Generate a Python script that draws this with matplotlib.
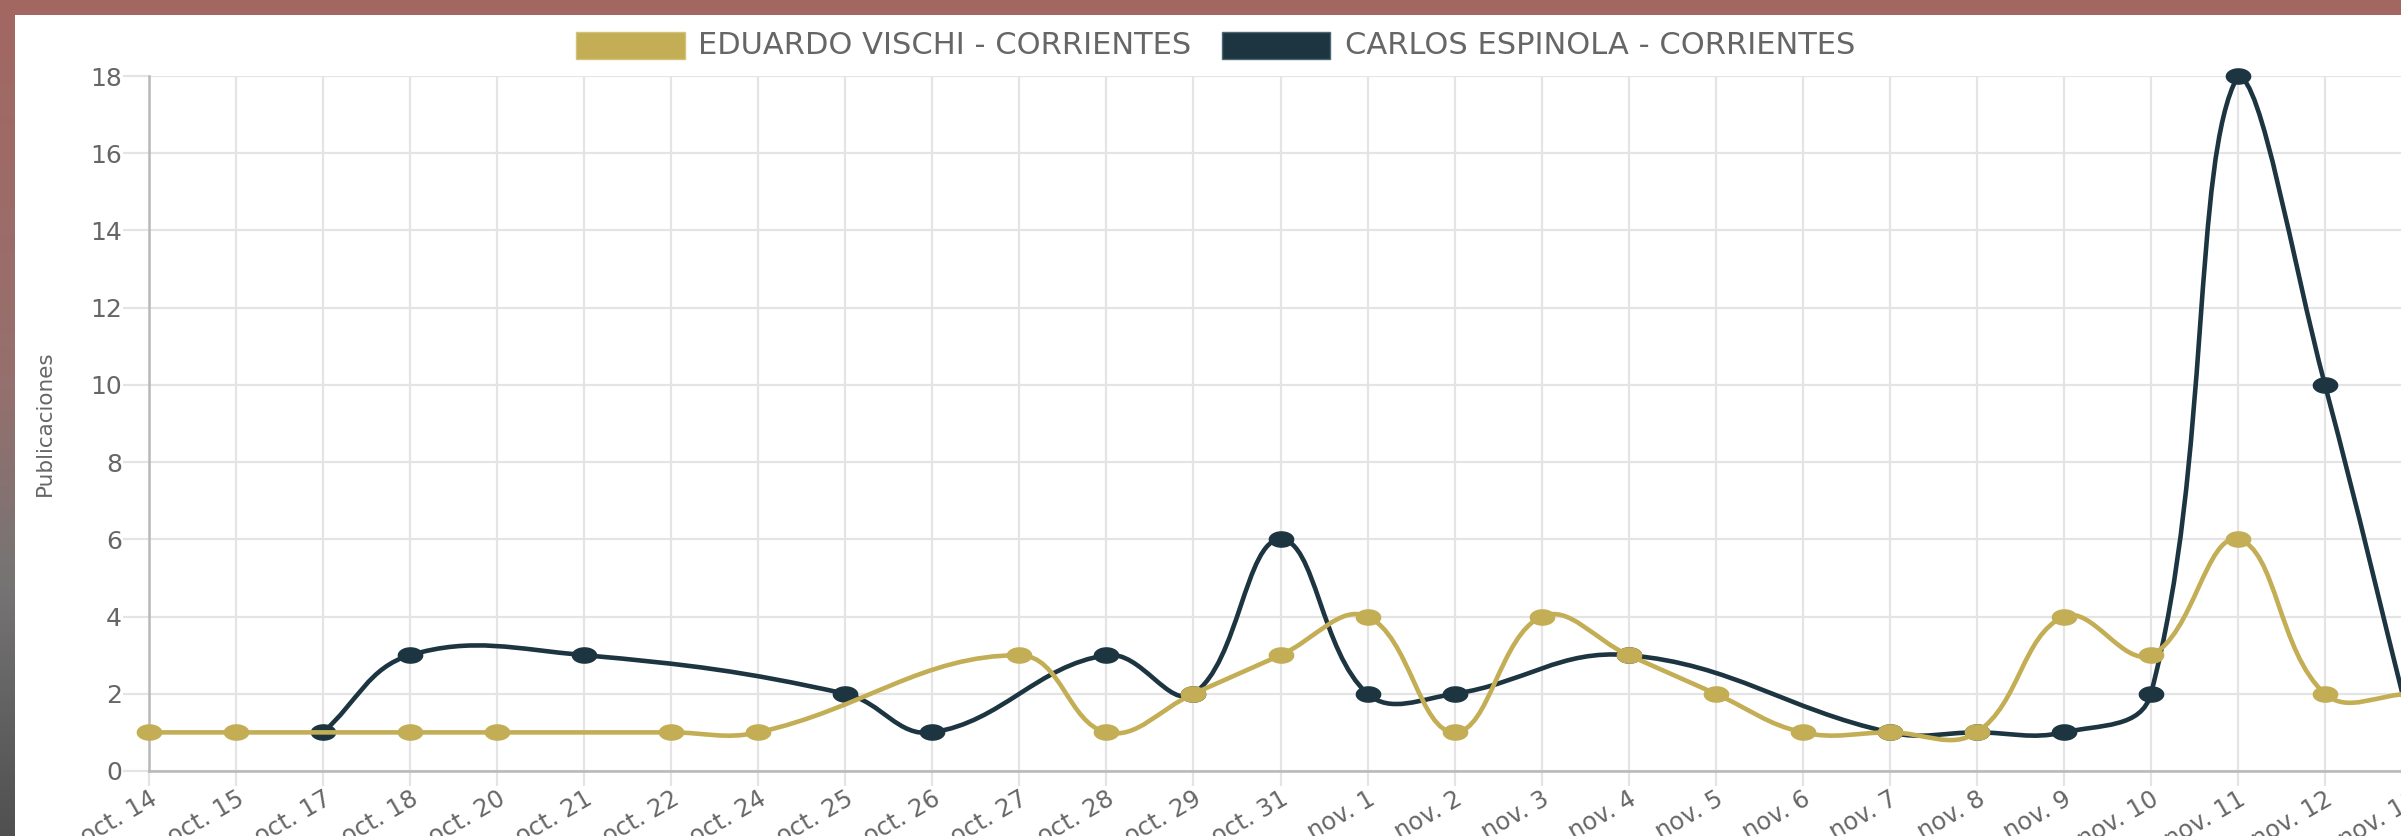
import numpy as np
import matplotlib
matplotlib.use("Agg")
import matplotlib.pyplot as plt
from matplotlib.path import Path
from matplotlib.patches import PathPatch, Rectangle

plt.rcParams['font.family'] = ['DejaVu Sans']

# datos (None = sin publicaciones ese dia, la linea pasa de largo)
fechas = ["oct. 14", "oct. 15", "oct. 17", "oct. 18", "oct. 20", "oct. 21", "oct. 22",
          "oct. 24", "oct. 25", "oct. 26", "oct. 27", "oct. 28", "oct. 29", "oct. 31",
          "nov. 1", "nov. 2", "nov. 3", "nov. 4", "nov. 5", "nov. 6", "nov. 7",
          "nov. 8", "nov. 9", "nov. 10", "nov. 11", "nov. 12", "nov. 13"]
vischi = [1, 1, None, 1, 1, None, 1, 1, None, None, 3, 1, 2, 3, 4, 1, 4, 3, 2, 1, 1,
          1, 4, 3, 6, 2, 2]
espinola = [None, None, 1, 3, None, 3, None, None, 2, 1, None, 3, 2, 6, 2, 2, None, 3,
            None, None, 1, 1, 1, 2, 18, 10, 1]
y_ticks = list(range(0, 19, 2))

nombre_vischi = "EDUARDO VISCHI - CORRIENTES"
nombre_espinola = "CARLOS ESPINOLA - CORRIENTES"
color_vischi = "#C3AE55"
color_espinola = "#1C3541"
gris = "#666666"

W, H = 2401, 836
fig = plt.figure(figsize=(W / 100, H / 100), dpi=100)
fig.patch.set_facecolor("white")

# area del grafico (el eje x sigue un poco mas alla del borde derecho)
x0, x1 = 149, 2412
y0, y1 = 771, 76
ax = fig.add_axes([x0 / W, (H - y0) / H, (x1 - x0) / W, (y0 - y1) / H])
ax.set_xlim(0, len(fechas) - 1)
ax.set_ylim(0, 18)

# escala en pixeles para calcular las curvas como chart.js
SX = (x1 - x0) / (len(fechas) - 1)
SY = (y0 - y1) / 18.0
TENSION = 0.4

# los puntos del ultimo dia quedan fuera de la captura
recorte = Rectangle((0, 0), 2388 / W, 1, transform=fig.transFigure, visible=False)


def curva(valores, color, z):
    idx = [i for i, v in enumerate(valores) if v is not None]
    p = np.array([[i * SX, valores[i] * SY] for i in idx], dtype=float)
    n = len(p)
    cp_prev = np.zeros_like(p)
    cp_next = np.zeros_like(p)
    for k in range(n):
        cur = p[k]
        prv = p[k - 1] if k > 0 else cur
        nxt = p[k + 1] if k < n - 1 else cur
        d01 = np.hypot(*(cur - prv))
        d12 = np.hypot(*(nxt - cur))
        tot = d01 + d12
        s01 = d01 / tot if tot else 0
        s12 = d12 / tot if tot else 0
        cp_prev[k] = cur - TENSION * s01 * (nxt - prv)
        cp_next[k] = cur + TENSION * s12 * (nxt - prv)
    # limitar los puntos de control al area del grafico
    for cp in (cp_prev, cp_next):
        cp[:, 0] = np.clip(cp[:, 0], 0, (len(fechas) - 1) * SX)
        cp[:, 1] = np.clip(cp[:, 1], 0, 18 * SY)
    esc = np.array([SX, SY])
    verts = [p[0] / esc]
    codes = [Path.MOVETO]
    for k in range(n - 1):
        verts += [cp_next[k] / esc, cp_prev[k + 1] / esc, p[k + 1] / esc]
        codes += [Path.CURVE4] * 3
    patch = PathPatch(Path(verts, codes), facecolor="none", edgecolor=color,
                      lw=3.3, zorder=z, clip_on=False, capstyle="round", joinstyle="round")
    ax.add_patch(patch)
    # puntos (estirados en horizontal como en la captura)
    t = np.linspace(0, 2 * np.pi, 60)
    elipse = Path(np.column_stack([1.6 * np.cos(t), np.sin(t)]))
    pts, = ax.plot(idx, [valores[i] for i in idx], linestyle="none", marker=elipse,
                   markersize=17.5, color=color, zorder=z + 0.5)
    pts.set_clip_path(recorte)


curva(espinola, color_espinola, 3)
curva(vischi, color_vischi, 5)

# ejes y grilla
ax.set_xticks(range(len(fechas)))
ax.set_xticklabels(fechas, rotation=30, ha="right", va="top", rotation_mode="anchor")
ax.set_yticks(y_ticks)
ax.grid(True, color="#e4e4e4", lw=1.6)
ax.set_axisbelow(True)
for s in ("top", "right"):
    ax.spines[s].set_visible(False)
for s in ("left", "bottom"):
    ax.spines[s].set_color("#b8b8b8")
    ax.spines[s].set_linewidth(1.8)
ax.tick_params(axis="y", length=18.5, width=1.6, color="#e4e4e4", pad=1,
               labelsize=18, labelcolor=gris)
ax.tick_params(axis="x", length=11, width=1.6, color="#e4e4e4", pad=0.5,
               labelsize=17.5, labelcolor=gris)
ax.set_ylabel("Publicaciones", fontsize=15.5, color=gris)
ax.yaxis.set_label_coords(-0.0415, 0.5)

# leyenda hecha a mano arriba
ly = 45
fig.patches.append(Rectangle((576 / W, (H - 59) / H), 109 / W, 27 / H, transform=fig.transFigure,
                             facecolor=color_vischi, edgecolor="#d2c27a", lw=1))
fig.text(698 / W, (H - ly) / H, nombre_vischi, ha="left", va="center", fontsize=22, color=gris)
fig.patches.append(Rectangle((1222 / W, (H - 59) / H), 108 / W, 27 / H, transform=fig.transFigure,
                             facecolor=color_espinola, edgecolor="#4d6772", lw=1))
fig.text(1345 / W, (H - ly) / H, nombre_espinola, ha="left", va="center", fontsize=22, color=gris)

# marco de la captura: franja superior y franja izquierda en degradado
fig.patches.append(Rectangle((0, (H - 15) / H), 1, 15 / H, transform=fig.transFigure,
                             facecolor="#A36762", edgecolor="none", zorder=10))
grad = np.array([[163, 103, 98], [150, 112, 110], [118, 116, 116], [80, 80, 80]]) / 255
pos = np.linspace(0, 1, 200)
tramo = np.column_stack([np.interp(pos, [0, 0.45, 0.7, 1], grad[:, c]) for c in range(3)])
bax = fig.add_axes([0, 0, 15 / W, 1])
bax.imshow(tramo[:, None, :], aspect="auto", extent=[0, 1, 0, 1], origin="upper")
bax.set_axis_off()

fig.savefig("out.png", dpi=100)
